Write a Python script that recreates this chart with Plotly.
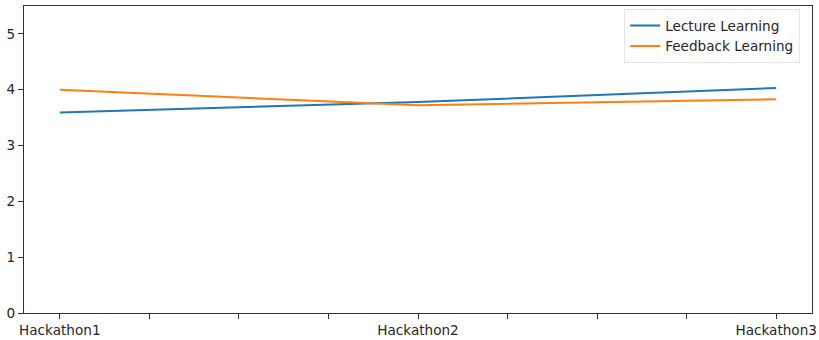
import plotly.graph_objects as go

categories = ["Hackathon1", "Hackathon2", "Hackathon3"]
lecture_learning = [3.59, 3.78, 4.03]
feedback_learning = [4.00, 3.72, 3.83]
y_ticks = [0, 1, 2, 3, 4, 5]

xpos = list(range(len(categories)))
minor = [i * 0.25 for i in range(9)]
ticktext = [categories[int(v)] if v == int(v) else "" for v in minor]

fig = go.Figure()
fig.add_trace(go.Scatter(x=xpos, y=lecture_learning, mode="lines", name="Lecture Learning",
                         line=dict(color="#1f77b4", width=2)))
fig.add_trace(go.Scatter(x=xpos, y=feedback_learning, mode="lines", name="Feedback Learning",
                         line=dict(color="#ff7f0e", width=2)))

font = dict(family="DejaVu Sans", size=13.6, color="#262626")
fig.update_layout(
    width=819, height=340,
    margin=dict(l=24, r=7, t=6, b=27),
    paper_bgcolor="white", plot_bgcolor="white",
    font=font,
    showlegend=True,
    legend=dict(x=0.985, y=0.99, xanchor="right", yanchor="top",
                bgcolor="rgba(255,255,255,0.8)", bordercolor="#e6e6e6", borderwidth=1,
                font=dict(family="DejaVu Sans", size=13.6, color="#262626"),
                tracegroupgap=0),
)
fig.update_xaxes(range=[-0.1, 2.1], tickmode="array", tickvals=minor, ticktext=ticktext,
                 automargin=False,
                 showgrid=False, zeroline=False, showline=True, linecolor="#333333", linewidth=1,
                 mirror=True, ticks="outside", ticklen=5, tickcolor="#333333")
fig.update_yaxes(range=[0, 5.5], tickmode="array", tickvals=y_ticks,
                 automargin=False,
                 showgrid=False, zeroline=False, showline=True, linecolor="#333333", linewidth=1,
                 mirror=True, ticks="outside", ticklen=5, tickcolor="#333333")

fig.write_html("out.html", config={"displayModeBar": False},
               post_script="document.body.style.margin='0';document.body.style.padding='0';")
